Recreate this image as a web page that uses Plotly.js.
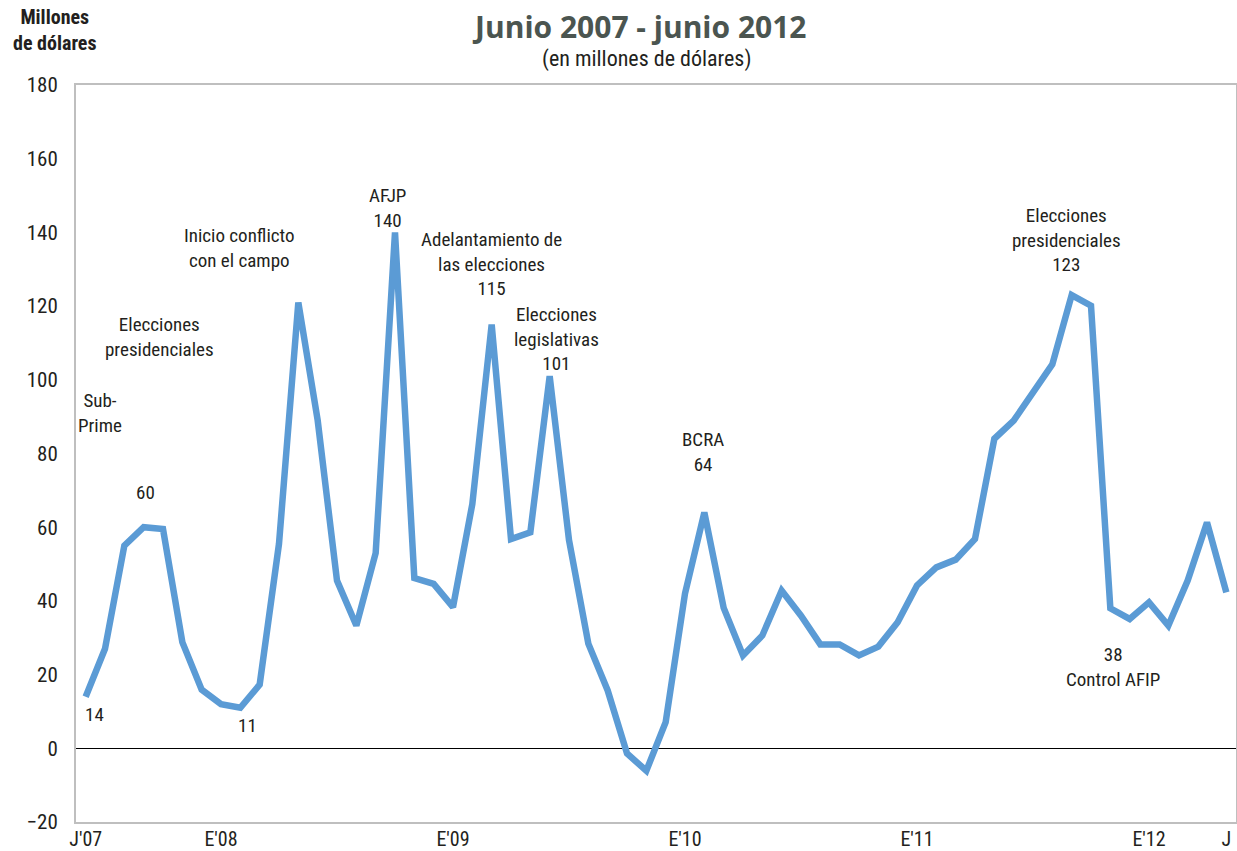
<!DOCTYPE html>
<html>
<head>
<meta charset="utf-8">
<script src="https://cdn.plot.ly/plotly-3.0.1.min.js"></script>
<style>
  html, body { margin: 0; padding: 0; background: #ffffff; }
  #chart { width: 1237px; height: 851px; }
</style>
</head>
<body>
<div id="chart"></div>
<script>
// Monthly categories, June 2007 onwards
const months = [
  "jun-07","jul-07","ago-07","sep-07","oct-07","nov-07","dic-07",
  "ene-08","feb-08","mar-08","abr-08","may-08","jun-08","jul-08","ago-08","sep-08","oct-08","nov-08","dic-08",
  "ene-09","feb-09","mar-09","abr-09","may-09","jun-09","jul-09","ago-09","sep-09","oct-09","nov-09","dic-09",
  "ene-10","feb-10","mar-10","abr-10","may-10","jun-10","jul-10","ago-10","sep-10","oct-10","nov-10","dic-10",
  "ene-11","feb-11","mar-11","abr-11","may-11","jun-11","jul-11","ago-11","sep-11","oct-11","nov-11","dic-11",
  "ene-12","feb-12","mar-12","abr-12","may-12"
];

// Millones de dólares por mes
const values = [
  14, 27, 55, 60, 59.5, 28.8, 15.9,
  12, 11, 17.3, 55.5, 121, 89, 45.5, 33.3, 53, 140, 46.2, 44.6,
  38.3, 66.3, 115, 56.8, 58.6, 101, 56.5, 28.4, 15.7, -1.4, -6.1, 7.1,
  42, 64, 38.1, 25.2, 30.6, 42.8, 36, 28.2, 28.2, 25.2, 27.6, 34.2,
  44.2, 49.1, 51.2, 56.8, 84, 88.9, 96.6, 104.2, 123, 120.1, 38, 35.1,
  39.6, 33.3, 45.5, 61.3, 42.3
];

const tickMonths = ["jun-07", "ene-08", "ene-09", "ene-10", "ene-11", "ene-12", "may-12"];
const tickLabels = ["J'07", "E'08", "E'09", "E'10", "E'11", "E'12", "J"];

// Event notes: text and its centre (category index, value)
const noteTexts = [
  "Sub-<br>Prime",
  "14",
  "Elecciones<br>presidenciales",
  "60",
  "11",
  "Inicio conflicto<br>con el campo",
  "AFJP<br>140",
  "Adelantamiento de<br>las elecciones<br>115",
  "Elecciones<br>legislativas<br>101",
  "BCRA<br>64",
  "Elecciones<br>presidenciales<br>123",
  "38<br>Control AFIP"
];
const noteX = [0.74, 0.48, 3.84, 3.12, 8.35, 7.98, 15.59, 21.0, 24.33, 31.93, 50.71, 53.15];
const noteY = [91, 9.2, 111.6, 69.5, 6.2, 135.9, 146.6, 131.4, 111.0, 80.4, 137.9, 22];

const FONT = '"Liberation Sans Narrow", "Arial Narrow", "Roboto Condensed", Roboto, Arial, sans-serif';
const TEXT = '#231f20';

const trace = {
  type: 'scatter',
  mode: 'lines',
  x: months,
  y: values,
  line: { color: '#5b9bd5', width: 6.5, shape: 'linear' },
  hoverinfo: 'x+y'
};

const annotations = noteTexts.map((t, i) => ({
  text: t,
  xref: 'x', yref: 'y',
  x: noteX[i], y: noteY[i],
  showarrow: false,
  align: 'center',
  xanchor: 'center', yanchor: 'middle',
  font: { family: FONT, size: 19, color: TEXT }
}));

annotations.push({
  text: '(en millones de dólares)',
  xref: 'paper', yref: 'paper',
  x: 0.492, y: 1.0353,
  xanchor: 'center', yanchor: 'middle',
  showarrow: false,
  font: { family: FONT, size: 22, color: TEXT }
});

annotations.push({
  text: '<b>Millones</b><br><b>de dólares</b>',
  xref: 'paper', yref: 'paper',
  x: -0.0185, y: 1.0746,
  xanchor: 'center', yanchor: 'middle',
  align: 'center',
  showarrow: false,
  font: { family: FONT, size: 20, color: TEXT }
});

const layout = {
  width: 1237,
  height: 851,
  margin: { l: 76, r: 1, t: 85, b: 29, pad: 0 },
  paper_bgcolor: '#ffffff',
  plot_bgcolor: '#ffffff',
  showlegend: false,
  title: {
    text: '<b>Junio 2007 - junio 2012</b>',
    x: 0.518, xanchor: 'center',
    y: 1 - 27 / 851, yanchor: 'middle',
    font: { family: '"Open Sans", Roboto, sans-serif', size: 30, color: '#4b5550' }
  },
  xaxis: {
    type: 'category',
    categoryorder: 'array',
    categoryarray: months,
    range: [-0.5, months.length - 0.5],
    tickvals: tickMonths,
    ticktext: tickLabels,
    ticks: '',
    showgrid: false,
    zeroline: false,
    showline: true,
    mirror: true,
    linecolor: '#bfbfbf',
    linewidth: 2,
    tickfont: { family: FONT, size: 20, color: TEXT },
    ticklabelstandoff: -2
  },
  yaxis: {
    range: [-20, 180],
    tickvals: [-20, 0, 20, 40, 60, 80, 100, 120, 140, 160, 180],
    ticks: '',
    showgrid: false,
    zeroline: true,
    zerolinecolor: '#000000',
    zerolinewidth: 1.5,
    showline: true,
    mirror: true,
    linecolor: '#bfbfbf',
    linewidth: 2,
    tickfont: { family: FONT, size: 21, color: TEXT },
    ticklabelstandoff: 12
  },
  annotations: annotations
};

Plotly.newPlot('chart', [trace], layout, { displayModeBar: false, staticPlot: true });
</script>
</body>
</html>
